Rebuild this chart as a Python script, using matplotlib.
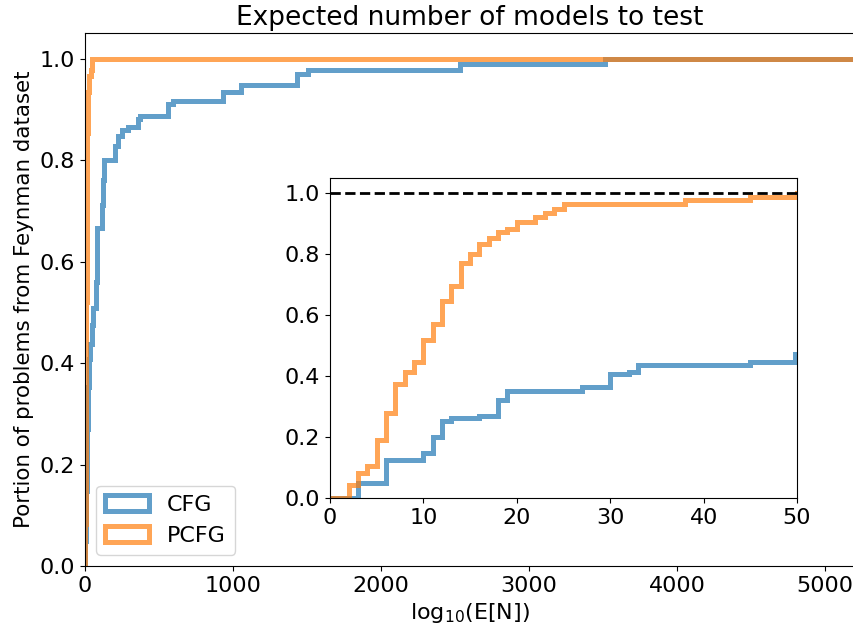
import numpy as np
import matplotlib
matplotlib.use("Agg")
import matplotlib.pyplot as plt
from matplotlib.patches import Patch

# step positions (E[N]) and cumulative portion of solved problems after each step
cfg_x = [3, 6, 10, 11, 12, 13, 16, 18, 19, 27, 30, 32, 33, 45, 49.8,
         55, 75, 78, 80, 112, 118, 122, 126, 203, 225, 248, 293, 360, 372,
         563, 597, 935, 1054, 1430, 1504, 2534, 3514]
cfg_y = [0.05, 0.125, 0.147, 0.2, 0.251, 0.262, 0.27, 0.322, 0.352, 0.364,
         0.407, 0.415, 0.4375, 0.446, 0.474,
         0.509, 0.56, 0.62, 0.667, 0.69, 0.712, 0.76, 0.80, 0.827, 0.847,
         0.86, 0.865, 0.88, 0.886, 0.911, 0.917, 0.935, 0.948, 0.969, 0.978,
         0.989, 1.0]

pcfg_x = [2, 3, 4, 5, 6, 7, 8, 9, 10, 11, 12, 13, 14, 15, 16, 17, 18, 19,
          20, 22, 23, 24, 25, 38, 45, 50]
pcfg_y = [0.043, 0.083, 0.105, 0.19, 0.28, 0.374, 0.415, 0.445, 0.52, 0.572,
          0.646, 0.697, 0.77, 0.80, 0.832, 0.854, 0.873, 0.884, 0.904, 0.922,
          0.934, 0.947, 0.966, 0.978, 0.988, 1.0]

x_end = 6000
series = [("CFG", cfg_x, cfg_y, "C0"), ("PCFG", pcfg_x, pcfg_y, "C1")]


def draw_steps(ax, lw=3.6):
    for name, xs, ys, col in series:
        edges = [0] + list(xs) + [x_end]
        vals = [0] + list(ys)
        ax.stairs(vals, edges, baseline=None, color=col, alpha=0.7, lw=lw)


plt.rcParams['font.size'] = 16

fig = plt.figure(figsize=(8.54, 6.26), dpi=100)
ax = fig.add_axes([0.0995, 0.0958, 0.9015, 0.8512])
draw_steps(ax)
ax.set_xlim(0, 5200)
ax.set_ylim(0, 1.05)
ax.set_xticks(np.arange(0, 5001, 1000))
ax.set_yticks(np.arange(0, 1.01, 0.2))
ax.set_title("Expected number of models to test", fontsize=19)
ax.set_xlabel(r"log$_{10}$(E[N])", fontsize=16)
ax.set_ylabel("Portion of problems from Feynman dataset", fontsize=15.4)

handles = [Patch(facecolor="none", edgecolor=col, alpha=0.7, lw=3.6, label=name)
           for name, _, _, col in series]
ax.legend(handles=handles, loc="lower left", fontsize=16)

axin = fig.add_axes([0.3864, 0.2045, 0.5469, 0.5112])
draw_steps(axin)
axin.axhline(1.0, color="black", ls="--", lw=2)
axin.set_xlim(0, 50)
axin.set_ylim(0, 1.05)
axin.set_xticks(np.arange(0, 51, 10))
axin.set_yticks(np.arange(0, 1.01, 0.2))

fig.savefig("out.png", dpi=100)
